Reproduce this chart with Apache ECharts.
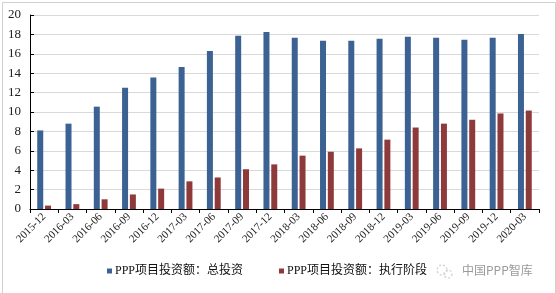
<!DOCTYPE html>
<html><head><meta charset="utf-8">
<script src="https://cdn.jsdelivr.net/npm/echarts@6/dist/echarts.min.js"></script>
<style>html,body{margin:0;padding:0;background:#fff}#c{width:556px;height:293px}</style>
</head><body><div id="c"></div>
<script>
const categories = ['2015-12','2016-03','2016-06','2016-09','2016-12','2017-03','2017-06','2017-09','2017-12','2018-03','2018-06','2018-09','2018-12','2019-03','2019-06','2019-09','2019-12','2020-03'];
const totalInvest = [8.1, 8.8, 10.55, 12.5, 13.55, 14.65, 16.3, 17.85, 18.25, 17.65, 17.35, 17.35, 17.55, 17.75, 17.65, 17.45, 17.65, 18.05];
const execStage = [0.35, 0.5, 1.0, 1.5, 2.1, 2.85, 3.25, 4.1, 4.6, 5.5, 5.9, 6.25, 7.15, 8.4, 8.8, 9.2, 9.85, 10.15];
const seriesNames = ['PPP项目投资额：总投资', 'PPP项目投资额：执行阶段'];
const yTicks = {min: 0, max: 20, interval: 2};

const serif = '"Liberation Serif", "Times New Roman", serif';
const mixed = '"Liberation Serif", "Noto Sans CJK SC", serif';
const chart = echarts.init(document.getElementById('c'));
chart.setOption({
  animation: false,
  backgroundColor: '#fff',
  grid: {left: 30, right: 17, top: 15, bottom: 84},
  legend: {
    data: seriesNames, bottom: 11, left: 102, itemWidth: 5, itemHeight: 5, itemGap: 36,
    icon: 'rect',
    textStyle: {fontFamily: mixed, fontSize: 12, color: '#111', padding: [0,0,0,-2]}
  },
  xAxis: {
    type: 'category', data: categories,
    axisLine: {lineStyle: {color: '#000', width: 1}},
    axisTick: {show: true, alignWithLabel: false, length: 4, lineStyle: {color: '#000'}},
    axisLabel: {rotate: 45, interval: 0, fontFamily: serif, fontSize: 11, color: '#222', margin: 6}
  },
  yAxis: {
    type: 'value', min: yTicks.min, max: yTicks.max, interval: yTicks.interval,
    axisLine: {show: true, lineStyle: {color: '#000', width: 1}},
    axisTick: {show: true, inside: true, length: 4, lineStyle: {color: '#000'}},
    splitLine: {lineStyle: {color: '#d9d9d9'}},
    axisLabel: {fontFamily: serif, fontSize: 13, color: '#222', margin: 9}
  },
  series: [
    {name: seriesNames[0], type: 'bar', data: totalInvest, barWidth: 6, barGap: '30%', itemStyle: {color: '#3b6292'}},
    {name: seriesNames[1], type: 'bar', data: execStage, barWidth: 6, itemStyle: {color: '#8f3a3a'}}
  ],
  graphic: [
    {type: 'rect', left: 0, top: 0, shape: {x: 0.5, y: 0.5, width: 553, height: 291}, style: {fill: 'none', stroke: '#d0d0d0', lineWidth: 1}, silent: true},
    {type: 'circle', shape: {cx: 442, cy: 270, r: 5}, style: {fill: 'none', stroke: '#cfcfcf', lineWidth: 1.2, lineDash: [2, 2]}, silent: true},
    {type: 'circle', shape: {cx: 448, cy: 274, r: 4}, style: {fill: 'none', stroke: '#cfcfcf', lineWidth: 1.2, lineDash: [2, 2]}, silent: true},
    {type: 'text', left: 462, top: 264, style: {text: '中国PPP智库', fontFamily: '"Noto Sans CJK SC"', fontSize: 12, fill: '#9a9a9a'}}
  ]
});
</script></body></html>
